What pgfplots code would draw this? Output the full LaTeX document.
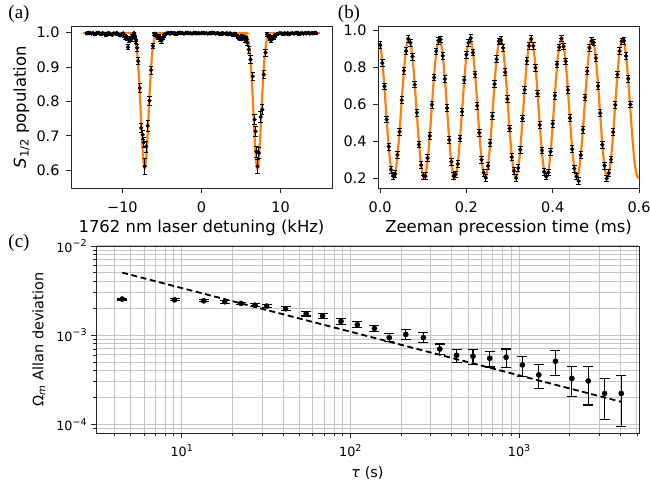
\documentclass[border=0pt]{standalone}
\usepackage{fontspec}
\setmainfont{DejaVu Sans}
\newfontfamily\panelfont{Liberation Serif}
\usepackage{pgfplots}
\usepackage{pgfplotstable}
\pgfplotsset{compat=1.18}
\definecolor{mplorange}{HTML}{FF7F0E}
\definecolor{gridgray}{HTML}{C4C4C4}
\newcommand{\sups}[1]{\raisebox{0.42em}{\fontsize{9.5}{10}\selectfont #1}}

\pgfplotstableread{
x y e
-14.5 0.998 0.003
-14.3 1.000 0.003
-14.1 0.999 0.003
-13.9 0.997 0.003
-13.7 0.999 0.003
-13.5 0.995 0.003
-13.3 0.998 0.003
-13.1 1.000 0.003
-12.9 0.998 0.003
-12.7 0.996 0.003
-12.5 0.999 0.003
-12.3 0.997 0.003
-12.1 0.993 0.003
-11.9 0.998 0.003
-11.7 0.999 0.003
-11.5 0.996 0.003
-11.3 0.994 0.003
-11.1 0.998 0.003
-10.9 0.997 0.003
-10.7 0.999 0.003
-10.5 0.995 0.003
-10.3 0.992 0.004
-10.1 0.996 0.003
-9.9 0.998 0.003
-9.75 0.990 0.004
-9.6 0.986 0.005
-9.45 0.983 0.005
-9.3 0.958 0.008
-9.15 0.978 0.006
-9.0 0.985 0.005
-8.85 0.981 0.005
-8.7 0.990 0.004
-8.55 0.999 0.003
-8.4 0.988 0.005
-8.27 0.975 0.006
-8.14 0.956 0.010
-8.01 0.917 0.010
-7.81 0.839 0.012
-7.63 0.723 0.014
-7.43 0.703 0.014
-7.30 0.681 0.015
-7.18 0.611 0.022
-7.00 0.669 0.016
-6.80 0.729 0.015
-6.58 0.802 0.013
-6.37 0.891 0.011
-6.16 0.961 0.008
-5.95 0.997 0.004
-5.8 0.993 0.004
-5.65 0.990 0.004
-5.5 0.985 0.005
-5.35 0.990 0.004
-5.2 0.980 0.005
-5.05 0.976 0.006
-4.9 0.985 0.005
-4.75 0.990 0.004
-4.6 0.996 0.003
-4.4 0.998 0.003
-4.2 0.999 0.003
-4.0 0.997 0.003
-3.8 1.000 0.003
-3.6 0.998 0.003
-3.4 0.999 0.003
-3.2 0.996 0.003
-3.0 0.999 0.003
-2.8 1.000 0.003
-2.6 0.998 0.003
-2.4 0.999 0.003
-2.2 0.997 0.003
-2.0 0.999 0.003
-1.8 1.000 0.003
-1.6 0.998 0.003
-1.4 0.999 0.003
-1.2 0.997 0.003
-1.0 0.999 0.003
-0.8 1.000 0.003
-0.6 0.998 0.003
-0.4 0.999 0.003
-0.2 0.998 0.003
0.0 0.999 0.003
0.2 1.000 0.003
0.4 0.998 0.003
0.6 0.999 0.003
0.8 0.997 0.003
1.0 0.999 0.003
1.2 0.998 0.003
1.4 1.000 0.003
1.6 0.999 0.003
1.8 0.997 0.003
2.0 0.999 0.003
2.2 0.998 0.003
2.4 0.996 0.003
2.6 0.999 0.003
2.8 0.998 0.003
3.0 0.997 0.003
3.2 0.999 0.003
3.4 0.995 0.003
3.6 0.998 0.003
3.8 0.996 0.003
4.0 0.994 0.004
4.2 0.997 0.003
4.4 0.992 0.004
4.6 0.988 0.005
4.8 0.985 0.005
4.95 0.982 0.005
5.1 0.990 0.004
5.25 0.984 0.005
5.4 0.986 0.005
5.55 0.978 0.006
5.65 0.985 0.005
5.78 0.971 0.008
5.99 0.951 0.010
6.20 0.922 0.011
6.49 0.873 0.012
6.71 0.747 0.015
6.84 0.713 0.015
6.95 0.654 0.016
7.09 0.611 0.020
7.25 0.650 0.016
7.47 0.755 0.015
7.68 0.776 0.014
7.88 0.878 0.012
8.10 0.942 0.010
8.30 0.995 0.005
8.5 0.990 0.004
8.65 0.982 0.005
8.8 0.978 0.006
8.95 0.986 0.005
9.1 0.984 0.005
9.3 0.990 0.004
9.5 0.995 0.003
9.7 0.997 0.003
9.9 0.999 0.003
10.1 0.998 0.003
10.3 0.996 0.003
10.5 0.999 0.003
10.7 0.997 0.003
10.9 0.999 0.003
11.1 0.995 0.003
11.3 0.998 0.003
11.5 0.999 0.003
11.7 0.997 0.003
11.9 0.999 0.003
12.1 1.000 0.003
12.3 0.996 0.003
12.5 0.998 0.003
12.7 0.999 0.003
12.9 0.997 0.003
13.1 0.999 0.003
13.3 0.998 0.003
13.5 1.000 0.003
13.7 0.997 0.003
13.9 0.999 0.003
14.1 0.998 0.003
14.3 1.000 0.003
14.5 0.999 0.003
}\dataA

\pgfplotstableread{
x y
-15.0 0.999
-9.18 0.999
-8.88 0.998
-8.68 0.9964
-8.53 0.9911
-8.38 0.9803
-8.23 0.9603
-8.08 0.9269
-7.93 0.8776
-7.78 0.8134
-7.63 0.741
-7.48 0.6725
-7.33 0.623
-7.18 0.605
-7.03 0.623
-6.88 0.6725
-6.73 0.741
-6.58 0.8134
-6.43 0.8776
-6.28 0.9269
-6.13 0.9603
-5.98 0.9803
-5.83 0.9911
-5.68 0.9964
-5.48 0.998
-5.18 0.999
5.07 0.999
5.37 0.998
5.57 0.9964
5.72 0.9911
5.87 0.9803
6.02 0.9603
6.17 0.9269
6.32 0.8776
6.47 0.8134
6.62 0.741
6.77 0.6725
6.92 0.623
7.07 0.605
7.22 0.623
7.37 0.6725
7.52 0.741
7.67 0.8134
7.82 0.8776
7.97 0.9269
8.12 0.9603
8.27 0.9803
8.42 0.9911
8.57 0.9964
8.77 0.998
9.07 0.999
15.0 0.999
}\fitA

\pgfplotstableread{
x y e
0.000 0.922 0.018
0.005 0.824 0.018
0.010 0.698 0.018
0.015 0.519 0.018
0.020 0.372 0.018
0.025 0.247 0.018
0.030 0.213 0.018
0.035 0.225 0.018
0.040 0.327 0.018
0.045 0.453 0.018
0.050 0.623 0.018
0.055 0.783 0.018
0.060 0.889 0.018
0.065 0.955 0.018
0.070 0.934 0.018
0.075 0.859 0.018
0.080 0.708 0.018
0.085 0.556 0.018
0.090 0.383 0.018
0.095 0.272 0.018
0.100 0.215 0.018
0.105 0.212 0.018
0.110 0.310 0.018
0.115 0.430 0.018
0.120 0.599 0.018
0.125 0.746 0.018
0.130 0.888 0.018
0.135 0.945 0.018
0.140 0.952 0.018
0.145 0.863 0.018
0.150 0.738 0.018
0.155 0.580 0.018
0.160 0.409 0.018
0.165 0.290 0.018
0.170 0.213 0.018
0.175 0.222 0.018
0.180 0.278 0.018
0.185 0.416 0.018
0.190 0.561 0.018
0.195 0.733 0.018
0.200 0.870 0.018
0.205 0.934 0.018
0.210 0.959 0.018
0.215 0.881 0.018
0.220 0.763 0.018
0.225 0.593 0.018
0.230 0.447 0.018
0.235 0.301 0.018
0.240 0.231 0.018
0.245 0.203 0.018
0.250 0.268 0.018
0.255 0.391 0.018
0.260 0.537 0.018
0.265 0.710 0.018
0.270 0.845 0.018
0.275 0.942 0.018
0.280 0.948 0.018
0.285 0.906 0.018
0.290 0.775 0.018
0.295 0.630 0.018
0.300 0.470 0.018
0.305 0.315 0.018
0.310 0.241 0.018
0.315 0.202 0.018
0.320 0.256 0.018
0.325 0.355 0.018
0.330 0.524 0.018
0.335 0.679 0.018
0.340 0.836 0.018
0.345 0.918 0.018
0.350 0.955 0.018
0.355 0.917 0.018
0.360 0.799 0.018
0.365 0.659 0.018
0.370 0.489 0.018
0.375 0.351 0.018
0.380 0.236 0.018
0.385 0.211 0.018
0.390 0.232 0.018
0.395 0.345 0.018
0.400 0.496 0.018
0.405 0.648 0.018
0.410 0.817 0.018
0.415 0.909 0.018
0.420 0.957 0.018
0.425 0.914 0.018
0.430 0.834 0.018
0.435 0.679 0.018
0.440 0.526 0.018
0.445 0.358 0.018
0.450 0.253 0.018
0.455 0.210 0.018
0.460 0.185 0.018
0.465 0.326 0.018
0.470 0.464 0.018
0.475 0.638 0.018
0.480 0.780 0.018
0.485 0.906 0.018
0.490 0.944 0.018
0.495 0.935 0.018
0.500 0.851 0.018
0.505 0.699 0.018
0.510 0.553 0.018
0.515 0.382 0.018
0.520 0.269 0.018
0.525 0.199 0.018
0.530 0.229 0.018
0.535 0.302 0.018
0.540 0.450 0.018
0.545 0.598 0.018
0.550 0.762 0.018
0.555 0.889 0.018
0.560 0.942 0.018
0.565 0.945 0.018
0.570 0.862 0.018
0.575 0.740 0.018
0.580 0.600 0.018
}\dataB

\pgfplotstableread{
x y
0.0000 0.9265
0.0044 0.8452
0.0089 0.7235
0.0133 0.58
0.0177 0.4365
0.0221 0.3148
0.0266 0.2335
0.0310 0.205
0.0354 0.2335
0.0398 0.3148
0.0443 0.4365
0.0487 0.58
0.0531 0.7235
0.0575 0.8452
0.0620 0.9265
0.0664 0.955
0.0708 0.9265
0.0752 0.8452
0.0797 0.7235
0.0841 0.58
0.0885 0.4365
0.0929 0.3148
0.0974 0.2335
0.1018 0.205
0.1062 0.2335
0.1106 0.3148
0.1151 0.4365
0.1195 0.58
0.1239 0.7235
0.1283 0.8452
0.1328 0.9265
0.1372 0.955
0.1416 0.9265
0.1460 0.8452
0.1505 0.7235
0.1549 0.58
0.1593 0.4365
0.1637 0.3148
0.1682 0.2335
0.1726 0.205
0.1770 0.2335
0.1814 0.3148
0.1859 0.4365
0.1903 0.58
0.1947 0.7235
0.1991 0.8452
0.2036 0.9265
0.2080 0.955
0.2124 0.9265
0.2168 0.8452
0.2213 0.7235
0.2257 0.58
0.2301 0.4365
0.2345 0.3148
0.2390 0.2335
0.2434 0.205
0.2478 0.2335
0.2522 0.3148
0.2567 0.4365
0.2611 0.58
0.2655 0.7235
0.2699 0.8452
0.2744 0.9265
0.2788 0.955
0.2832 0.9265
0.2876 0.8452
0.2921 0.7235
0.2965 0.58
0.3009 0.4365
0.3053 0.3148
0.3098 0.2335
0.3142 0.205
0.3186 0.2335
0.3230 0.3148
0.3275 0.4365
0.3319 0.58
0.3363 0.7235
0.3407 0.8452
0.3452 0.9265
0.3496 0.955
0.3540 0.9265
0.3584 0.8452
0.3629 0.7235
0.3673 0.58
0.3717 0.4365
0.3761 0.3148
0.3806 0.2335
0.3850 0.205
0.3894 0.2335
0.3938 0.3148
0.3983 0.4365
0.4027 0.58
0.4071 0.7235
0.4115 0.8452
0.4160 0.9265
0.4204 0.955
0.4248 0.9265
0.4292 0.8452
0.4337 0.7235
0.4381 0.58
0.4425 0.4365
0.4469 0.3148
0.4514 0.2335
0.4558 0.205
0.4602 0.2335
0.4646 0.3148
0.4691 0.4365
0.4735 0.58
0.4779 0.7235
0.4823 0.8452
0.4868 0.9265
0.4912 0.955
0.4956 0.9265
0.5000 0.8452
0.5045 0.7235
0.5089 0.58
0.5133 0.4365
0.5177 0.3148
0.5222 0.2335
0.5266 0.205
0.5310 0.2335
0.5354 0.3148
0.5399 0.4365
0.5443 0.58
0.5487 0.7235
0.5531 0.8452
0.5576 0.9265
0.5620 0.955
0.5664 0.9265
0.5708 0.8452
0.5753 0.7235
0.5797 0.58
0.5841 0.4365
0.5885 0.3148
0.5930 0.2335
0.5974 0.205
0.6000 0.215
}\fitB

\pgfplotstableread{
x y e
4.44 2.54e-3 0.06e-3
9.07 2.49e-3 0.06e-3
13.5 2.43e-3 0.07e-3
18.0 2.37e-3 0.08e-3
22.5 2.27e-3 0.08e-3
27.2 2.17e-3 0.09e-3
31.9 2.12e-3 0.10e-3
41.3 1.98e-3 0.10e-3
54.7 1.74e-3 0.10e-3
68.4 1.65e-3 0.10e-3
88 1.43e-3 0.10e-3
110 1.31e-3 0.10e-3
139 1.19e-3 0.10e-3
170 0.94e-3 0.10e-3
213 1.02e-3 0.13e-3
271 0.94e-3 0.12e-3
339 0.70e-3 0.096e-3
426 0.595e-3 0.10e-3
533 0.58e-3 0.11e-3
670 0.55e-3 0.11e-3
838 0.565e-3 0.135e-3
1047 0.464e-3 0.116e-3
1309 0.359e-3 0.106e-3
1644 0.51e-3 0.16e-3
2055 0.327e-3 0.122e-3
2570 0.307e-3 0.142e-3
3213 0.222e-3 0.108e-3
4036 0.222e-3 0.128e-3
}\dataC

\pgfplotsset{
  mplaxis/.style={
    scale only axis,
    anchor=south west,
    axis line style={black!85, line width=0.9bp},
    tick style={black!85, line width=0.9bp},
    tick align=outside,
    xtick pos=bottom, ytick pos=left,
    major tick length=5bp,
    minor tick length=3bp,
    ticklabel style={font=\fontsize{14.5}{17}\selectfont},
    xticklabel style={yshift=-5bp},
    yticklabel style={xshift=-3bp},
    label style={font=\fontsize{16.5}{19}\selectfont},
    xlabel style={yshift=-1bp},
  },
  mpldata/.style={
    only marks, mark=*, black, mark size=1.9bp,
    error bars/.cd, y dir=both, y explicit,
    error bar style={line width=0.8bp, black},
    error mark options={rotate=90, mark size=2.2bp, line width=0.8bp, black},
  },
}

\begin{document}
\begin{tikzpicture}[x=1bp,y=1bp]
\useasboundingbox (0,0) rectangle (650,487);

% (a)
\begin{axis}[mplaxis,
  at={(71bp,299bp)}, width=261bp, height=161.5bp,
  xmin=-16.5, xmax=16.5, ymin=0.548, ymax=1.018,
  xtick={-10,0,10}, xticklabels={−10,0,10},
  ytick={0.6,0.7,0.8,0.9,1.0}, yticklabels={0.6,0.7,0.8,0.9,1.0},
  xlabel={1762 nm laser detuning (kHz)},
  ylabel={{\itshape S}\textsubscript{1/2} population},
]
\addplot[mplorange, line width=2.2bp, smooth] table[x=x,y=y] {\fitA};
\addplot[mpldata] table[x=x,y=y,y error=e] {\dataA};
\end{axis}

% (b)
\begin{axis}[mplaxis,
  at={(378bp,299bp)}, width=261bp, height=161.5bp,
  xmin=-0.005, xmax=0.6, ymin=0.148, ymax=1.022,
  xtick={0,0.2,0.4,0.6}, xticklabels={0.0,0.2,0.4,0.6},
  ytick={0.2,0.4,0.6,0.8,1.0}, yticklabels={0.2,0.4,0.6,0.8,1.0},
  xlabel={Zeeman precession time (ms)},
]
\addplot[mplorange, line width=2.2bp, smooth] table[x=x,y=y] {\fitB};
\addplot[mpldata] table[x=x,y=y,y error=e] {\dataB};
\end{axis}

% (c)
\begin{axis}[mplaxis,
  at={(96bp,54bp)}, width=543bp, height=187bp,
  xmode=log, ymode=log,
  xmin=3.107, xmax=5140, ymin=8e-5, ymax=1e-2,
  xtick={10,100,1000},
  xticklabels={10\sups{1},10\sups{2},10\sups{3}},
  ytick={1e-4,1e-3,1e-2},
  yticklabels={10\sups{−4},10\sups{−3},10\sups{−2}},
  minor xtick={4,5,6,7,8,9,20,30,40,50,60,70,80,90,200,300,400,500,600,700,800,900,2000,3000,4000,5000},
  minor ytick={9e-5,2e-4,3e-4,4e-4,5e-4,6e-4,7e-4,8e-4,9e-4,2e-3,3e-3,4e-3,5e-3,6e-3,7e-3,8e-3,9e-3},
  grid=both,
  major grid style={gridgray, line width=1bp},
  minor grid style={gridgray, line width=1bp},
  ticklabel style={font=\fontsize{12.8}{15}\selectfont},
  xticklabel style={yshift=2bp},
  yticklabel style={xshift=2bp},
  label style={font=\fontsize{14.5}{17}\selectfont},
  xlabel style={yshift=-2bp},
  ylabel style={yshift=4bp},
  xlabel={{\itshape τ} (s)},
  ylabel={Ω\textsubscript{\itshape m} Allan deviation},
]
\addplot[black, line width=1.8bp, dash pattern=on 6bp off 3.5bp] coordinates {(4.44,5.03e-3) (4036,1.79e-4)};
\addplot[only marks, mark=*, black, mark size=2.6bp,
  error bars/.cd, y dir=both, y explicit,
  error bar style={line width=1.1bp, black},
  error mark options={rotate=90, mark size=5bp, line width=1.1bp, black}]
  table[x=x,y=y,y error=e] {\dataC};
\end{axis}

\node[font=\panelfont\fontsize{19}{22}\selectfont] at (19,473) {(a)};
\node[font=\panelfont\fontsize{19}{22}\selectfont] at (349,473) {(b)};
\node[font=\panelfont\fontsize{19}{22}\selectfont] at (19,244) {(c)};
\end{tikzpicture}
\end{document}
